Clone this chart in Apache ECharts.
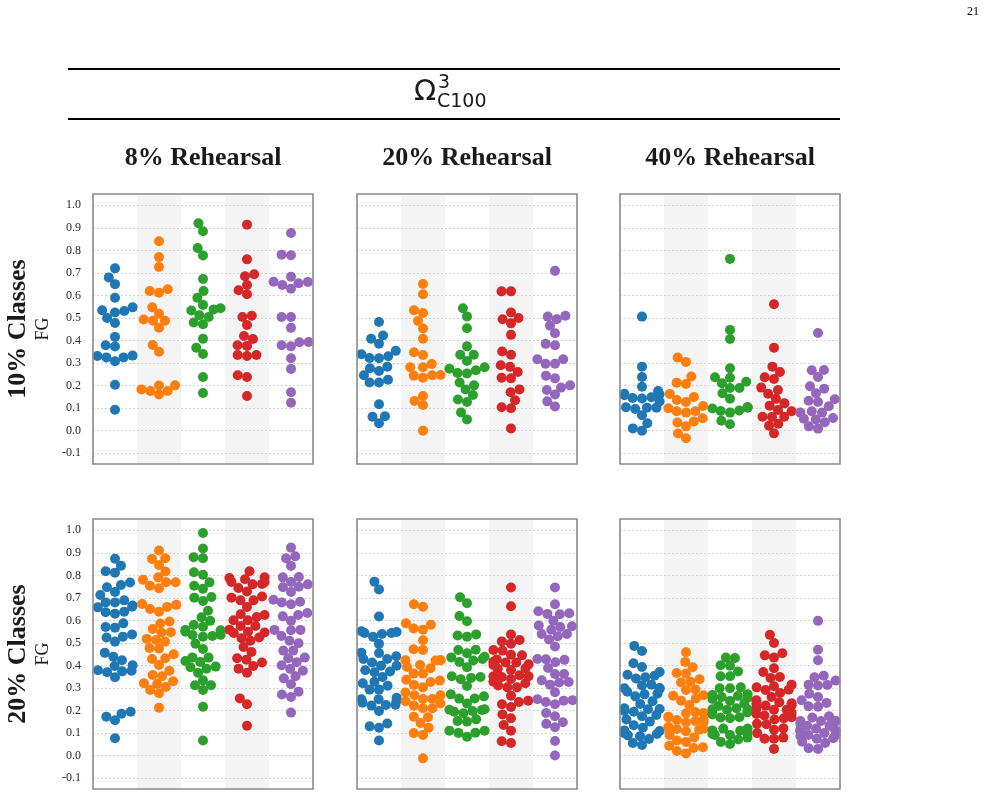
<!DOCTYPE html>
<html style="height: 100%">
<head>
    <meta charset="utf-8">
    <title>FG swarm</title>
    <script src="https://cdn.jsdelivr.net/npm/echarts@6/dist/echarts.min.js"></script>
</head>
<body style="height: 100%; margin: 0; background: #fff">
<div id="main" style="width: 986px; height: 797px"></div>
<script type="text/javascript">

    // 轴刻度与标题
    var yTicks = [-0.1, 0.0, 0.1, 0.2, 0.3, 0.4, 0.5, 0.6, 0.7, 0.8, 0.9, 1.0];
    var colTitles = ['8% Rehearsal', '20% Rehearsal', '40% Rehearsal'];
    var rowTitles = ['10% Classes', '20% Classes'];
    var yName = 'FG';
    var pageNo = '21';

    // 每个面板: [蓝, 橙, 绿, 红, 紫]
    var cls10_reh8 = [
        [0.72,0.68,0.65,0.59,0.534,0.524,0.531,0.547,0.50,0.478,0.416,0.379,0.373,0.331,0.325,0.308,0.325,0.333,0.204,0.093],
        [0.84,0.77,0.726,0.62,0.612,0.627,0.547,0.519,0.488,0.488,0.493,0.457,0.38,0.35,0.183,0.176,0.20,0.16,0.176,0.201],
        [0.92,0.885,0.81,0.777,0.673,0.62,0.59,0.543,0.538,0.533,0.558,0.504,0.512,0.48,0.472,0.408,0.368,0.34,0.238,0.167],
        [0.914,0.76,0.694,0.685,0.646,0.623,0.605,0.504,0.51,0.469,0.42,0.407,0.379,0.376,0.336,0.331,0.336,0.238,0.246,0.154],
        [0.877,0.781,0.778,0.683,0.661,0.646,0.63,0.654,0.66,0.504,0.504,0.456,0.379,0.374,0.392,0.393,0.321,0.274,0.17,0.124]
    ];
    var cls10_reh20 = [
        [0.482,0.408,0.422,0.386,0.354,0.33,0.321,0.322,0.339,0.284,0.265,0.277,0.246,0.214,0.214,0.226,0.117,0.062,0.064,0.033],
        [0.651,0.605,0.534,0.522,0.487,0.453,0.408,0.348,0.336,0.281,0.281,0.296,0.244,0.235,0.246,0.247,0.154,0.132,0.114,0.0],
        [0.543,0.507,0.454,0.374,0.337,0.337,0.309,0.281,0.268,0.254,0.256,0.275,0.214,0.201,0.183,0.158,0.138,0.127,0.081,0.05],
        [0.618,0.618,0.524,0.494,0.5,0.476,0.425,0.351,0.337,0.29,0.283,0.26,0.235,0.232,0.183,0.17,0.135,0.104,0.099,0.01],
        [0.709,0.506,0.494,0.51,0.466,0.432,0.385,0.379,0.317,0.297,0.297,0.317,0.244,0.232,0.191,0.18,0.16,0.13,0.107,0.201]
    ];
    var cls10_reh40 = [
        [0.506,0.284,0.238,0.195,0.176,0.164,0.143,0.145,0.161,0.129,0.148,0.102,0.096,0.102,0.104,0.068,0.033,0.01,0.0,0.157],
        [0.324,0.305,0.24,0.213,0.207,0.163,0.136,0.149,0.127,0.109,0.086,0.080,0.086,0.099,0.055,0.036,0.019,0.041,-0.013,-0.034],
        [0.762,0.447,0.407,0.277,0.237,0.235,0.217,0.21,0.189,0.189,0.166,0.142,0.102,0.087,0.080,0.089,0.105,0.044,0.028,0.098],
        [0.561,0.368,0.284,0.26,0.237,0.229,0.191,0.18,0.164,0.141,0.121,0.111,0.092,0.086,0.062,0.061,0.062,0.022,0.031,-0.012],
        [0.433,0.268,0.269,0.238,0.197,0.186,0.166,0.133,0.127,0.139,0.108,0.086,0.08,0.08,0.053,0.05,0.037,0.056,0.019,0.009]
    ];
    var cls20_reh8 = [
        [0.874,0.818,0.812,0.843,0.757,0.768,0.747,0.726,0.713,0.689,0.666,0.68,0.658,0.68,0.661,0.636,0.63,0.639,0.587,0.571,0.568,0.538,0.524,0.506,0.528,0.456,0.439,0.423,0.401,0.377,0.398,0.37,0.348,0.374,0.379,0.173,0.157,0.186,0.195,0.077],
        [0.91,0.876,0.873,0.846,0.817,0.781,0.791,0.754,0.769,0.769,0.743,0.673,0.651,0.639,0.66,0.669,0.586,0.595,0.562,0.546,0.547,0.513,0.518,0.506,0.478,0.475,0.429,0.432,0.45,0.402,0.358,0.352,0.377,0.321,0.291,0.318,0.305,0.33,0.277,0.213],
        [0.988,0.919,0.88,0.876,0.814,0.803,0.769,0.754,0.74,0.701,0.686,0.704,0.643,0.614,0.598,0.572,0.58,0.556,0.535,0.528,0.531,0.558,0.536,0.497,0.473,0.436,0.416,0.435,0.395,0.368,0.386,0.392,0.42,0.334,0.312,0.291,0.312,0.217,0.067,0.55],
        [0.818,0.791,0.771,0.76,0.783,0.788,0.771,0.728,0.744,0.706,0.689,0.689,0.701,0.66,0.624,0.615,0.601,0.601,0.627,0.575,0.575,0.559,0.546,0.544,0.55,0.521,0.51,0.524,0.482,0.46,0.432,0.426,0.413,0.386,0.398,0.368,0.254,0.228,0.133,0.762],
        [0.923,0.876,0.885,0.842,0.791,0.771,0.793,0.749,0.726,0.747,0.76,0.68,0.672,0.683,0.692,0.618,0.598,0.624,0.633,0.558,0.531,0.556,0.558,0.499,0.51,0.466,0.466,0.435,0.432,0.414,0.385,0.377,0.401,0.343,0.317,0.352,0.271,0.26,0.284,0.191]
    ];
    var cls20_reh20 = [
        [0.772,0.737,0.617,0.549,0.544,0.527,0.54,0.544,0.552,0.496,0.457,0.429,0.429,0.441,0.413,0.399,0.399,0.379,0.37,0.373,0.349,0.328,0.321,0.293,0.293,0.257,0.235,0.222,0.25,0.226,0.244,0.225,0.198,0.13,0.124,0.143,0.067,0.25,0.455,0.31],
        [0.672,0.661,0.587,0.564,0.559,0.581,0.512,0.472,0.469,0.423,0.422,0.423,0.423,0.388,0.402,0.393,0.337,0.364,0.364,0.327,0.333,0.303,0.314,0.28,0.268,0.251,0.251,0.268,0.241,0.222,0.21,0.21,0.231,0.173,0.17,0.145,0.1,0.092,0.124,-0.012],
        [0.703,0.676,0.62,0.596,0.533,0.528,0.538,0.47,0.469,0.454,0.436,0.416,0.439,0.422,0.429,0.392,0.352,0.339,0.345,0.349,0.309,0.263,0.254,0.253,0.272,0.231,0.204,0.195,0.188,0.198,0.206,0.203,0.154,0.151,0.161,0.111,0.101,0.084,0.102,0.111],
        [0.746,0.663,0.538,0.513,0.497,0.507,0.469,0.466,0.445,0.448,0.427,0.405,0.417,0.402,0.413,0.413,0.385,0.38,0.388,0.357,0.352,0.352,0.349,0.34,0.321,0.303,0.303,0.311,0.328,0.266,0.238,0.244,0.228,0.216,0.183,0.166,0.136,0.111,0.064,0.056],
        [0.746,0.672,0.641,0.627,0.629,0.632,0.598,0.578,0.571,0.559,0.54,0.54,0.574,0.515,0.484,0.428,0.414,0.425,0.429,0.389,0.362,0.362,0.327,0.315,0.325,0.334,0.281,0.25,0.238,0.228,0.244,0.246,0.189,0.175,0.141,0.126,0.148,0.065,0.001,0.53]
    ];
    var cls20_reh40 = [
        [0.487,0.464,0.393,0.41,0.371,0.355,0.348,0.342,0.359,0.315,0.311,0.297,0.275,0.272,0.263,0.284,0.299,0.241,0.229,0.206,0.198,0.18,0.175,0.195,0.207,0.151,0.135,0.124,0.112,0.096,0.09,0.074,0.086,0.109,0.056,0.047,0.1,0.3,0.21,0.16],
        [0.459,0.416,0.392,0.367,0.364,0.339,0.328,0.325,0.294,0.266,0.291,0.268,0.254,0.244,0.225,0.173,0.194,0.189,0.188,0.158,0.154,0.148,0.169,0.149,0.127,0.115,0.118,0.12,0.124,0.092,0.067,0.061,0.081,0.108,0.044,0.021,0.01,0.034,0.037,0.16],
        [0.433,0.435,0.401,0.399,0.373,0.352,0.352,0.303,0.299,0.299,0.272,0.251,0.26,0.257,0.269,0.232,0.22,0.243,0.206,0.183,0.204,0.21,0.206,0.192,0.169,0.166,0.17,0.112,0.092,0.12,0.12,0.111,0.092,0.096,0.08,0.061,0.052,0.072,0.1,0.265],
        [0.536,0.5,0.445,0.435,0.454,0.388,0.371,0.345,0.349,0.308,0.291,0.278,0.293,0.303,0.237,0.232,0.223,0.246,0.231,0.204,0.204,0.178,0.21,0.166,0.222,0.17,0.141,0.16,0.139,0.115,0.121,0.08,0.075,0.075,0.03,0.185,0.26,0.315,0.1,0.19],
        [0.598,0.47,0.423,0.333,0.355,0.348,0.314,0.311,0.315,0.26,0.275,0.246,0.234,0.217,0.219,0.169,0.155,0.154,0.154,0.152,0.175,0.133,0.112,0.111,0.109,0.111,0.133,0.111,0.092,0.077,0.075,0.062,0.056,0.087,0.033,0.03,0.1,0.14,0.12,0.09]
    ];

    var panels = [
        [cls10_reh8, cls10_reh20, cls10_reh40],
        [cls20_reh8, cls20_reh20, cls20_reh40]
    ];

    var colors = ['#1f77b4', '#ff7f0e', '#2ca02c', '#d62728', '#9467bd'];

    // 布局
    var yMin = -0.148, yMax = 1.05;
    var gridLeft = [93, 357, 620], gridTop = [194, 519];
    var gridW = 220, gridH = 270;
    var dotSize = 10, dotGap = 9;
    var pxX = gridW / 5, pxY = gridH / (yMax - yMin);

    // 类似 seaborn 的蜂群布局，返回像素偏移
    function swarm(values) {
        var order = values.map(function (v, i) { return i; })
            .sort(function (a, b) { return values[a] - values[b]; });
        var placed = [], out = [];
        var d = dotGap, lim = 0.4 * pxX;
        order.forEach(function (i) {
            var y = values[i] * pxY;
            var nb = placed.filter(function (p) { return Math.abs(p.y - y) < d; });
            var cand = [0];
            nb.forEach(function (p) {
                var dx = Math.sqrt(Math.max(d * d - (p.y - y) * (p.y - y), 0)) * 1.05;
                cand.push(p.x - dx, p.x + dx);
            });
            var sorted = cand.map(function (c, k) { return [Math.abs(c), k, c]; })
                .sort(function (a, b) { return a[0] - b[0] || a[1] - b[1]; });
            var x = 0;
            for (var k = 0; k < sorted.length; k++) {
                var c = sorted[k][2];
                var ok = nb.every(function (p) {
                    return (p.x - c) * (p.x - c) + (p.y - y) * (p.y - y) >= d * d * 0.999;
                });
                if (ok) { x = c; break; }
            }
            placed.push({ x: x, y: y });
            out[i] = Math.max(-lim, Math.min(lim, x));
        });
        return out;
    }

    var myChart = echarts.init(document.getElementById('main'));

    var grids = [], xAxes = [], yAxes = [], series = [];
    var serif = '"Liberation Serif", "Times New Roman", serif';

    panels.forEach(function (row, r) {
        row.forEach(function (groups, c) {
            var idx = grids.length;
            grids.push({
                left: gridLeft[c], top: gridTop[r], width: gridW, height: gridH,
                show: true, borderColor: '#8a8a8a', borderWidth: 1.6,
                backgroundColor: 'transparent', z: 5
            });
            xAxes.push({
                gridIndex: idx, type: 'value', min: -0.5, max: 4.5,
                show: false
            });
            yAxes.push({
                gridIndex: idx, type: 'value', min: yMin, max: yMax, z: 1.5,
                axisLine: { show: false },
                axisTick: { show: false, customValues: yTicks },
                axisLabel: {
                    show: c === 0, customValues: yTicks, margin: 12,
                    fontFamily: serif, fontSize: 12, color: '#262626',
                    formatter: function (v) { return v.toFixed(1); }
                },
                splitLine: { show: true, lineStyle: { color: '#d4d4d4', type: [2, 2], width: 1 } }
            });
            groups.forEach(function (vals, g) {
                var offs = swarm(vals);
                var s = {
                    type: 'scatter', xAxisIndex: idx, yAxisIndex: idx,
                    symbolSize: dotSize, z: 3, silent: true,
                    itemStyle: { color: colors[g], opacity: 1 },
                    data: vals.map(function (v, i) { return [g + offs[i] / pxX, v]; })
                };
                if (g === 1) {
                    s.markArea = {
                        silent: true,
                        itemStyle: { color: '#f4f4f4' },
                        data: [
                            [{ xAxis: 0.5 }, { xAxis: 1.5 }],
                            [{ xAxis: 2.5 }, { xAxis: 3.5 }]
                        ]
                    };
                }
                series.push(s);
            });
        });
    });

    var graphics = [
        { type: 'line', shape: { x1: 68, y1: 69, x2: 840, y2: 69 }, style: { stroke: '#000', lineWidth: 2 } },
        { type: 'line', shape: { x1: 68, y1: 119, x2: 840, y2: 119 }, style: { stroke: '#000', lineWidth: 2 } },
        { type: 'text', x: 414, y: 92, style: { text: 'Ω', font: '29px "DejaVu Sans"', fill: '#1a1a1a', verticalAlign: 'middle' } },
        { type: 'text', x: 438, y: 83, style: { text: '3', font: '19px "DejaVu Sans"', fill: '#1a1a1a', verticalAlign: 'middle' } },
        { type: 'text', x: 437, y: 102, style: { text: 'C100', font: '19px "DejaVu Sans"', fill: '#1a1a1a', verticalAlign: 'middle' } },
        { type: 'text', x: 979, y: 12, style: { text: pageNo, font: '12px ' + serif, fill: '#000', align: 'right', verticalAlign: 'middle' } }
    ];
    colTitles.forEach(function (t, c) {
        graphics.push({
            type: 'text', x: gridLeft[c] + gridW / 2, y: 158,
            style: { text: t, font: 'bold 26px ' + serif, fill: '#1a1a1a', align: 'center', verticalAlign: 'middle' }
        });
    });
    rowTitles.forEach(function (t, r) {
        var cy = gridTop[r] + gridH / 2;
        graphics.push({
            type: 'text', x: 18, y: cy, rotation: Math.PI / 2,
            style: { text: t, font: 'bold 26px ' + serif, fill: '#1a1a1a', align: 'center', verticalAlign: 'middle' }
        });
        graphics.push({
            type: 'text', x: 43, y: cy, rotation: Math.PI / 2,
            style: { text: yName, font: '18px ' + serif, fill: '#1a1a1a', align: 'center', verticalAlign: 'middle' }
        });
    });

    var option = {
        animation: false,
        backgroundColor: '#fff',
        grid: grids,
        xAxis: xAxes,
        yAxis: yAxes,
        series: series,
        graphic: graphics
    };

    myChart.setOption(option);
</script>
</body>
</html>
